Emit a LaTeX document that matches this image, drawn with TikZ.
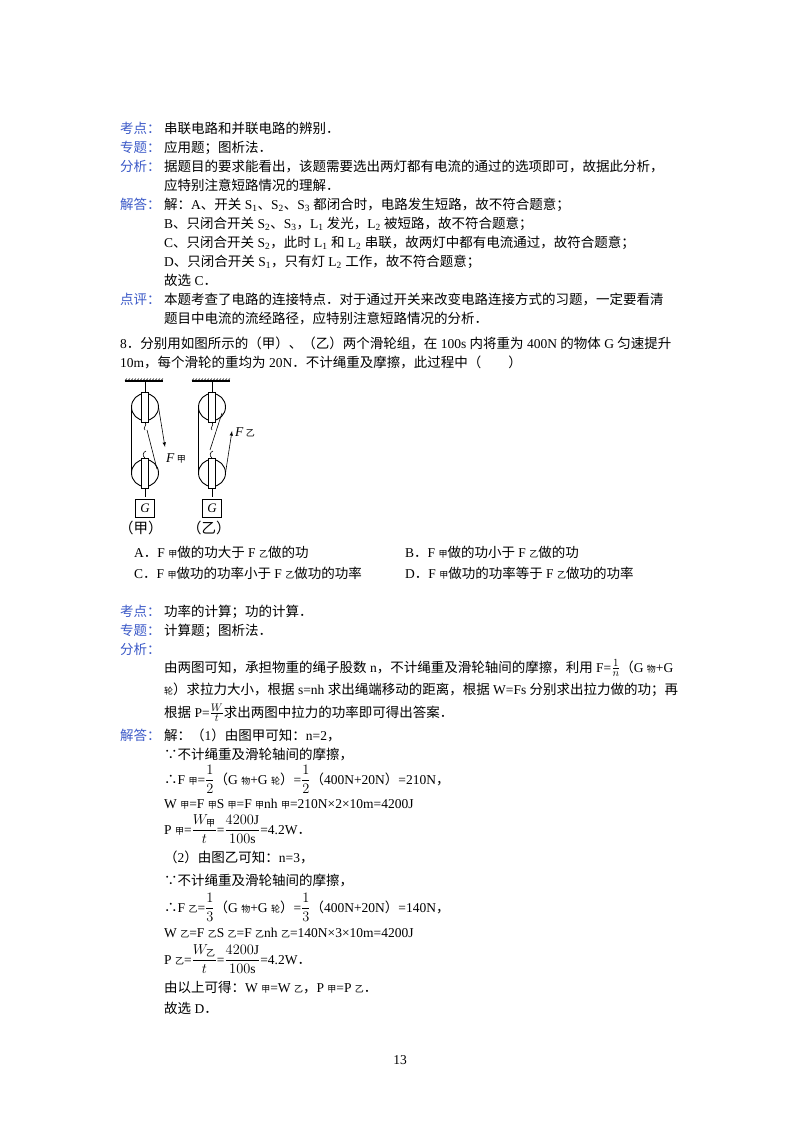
\documentclass[tikz,border=0pt]{standalone}
\usepackage{fontspec}
\setmainfont{Liberation Serif}
\newfontfamily\cjk{Noto Sans CJK SC}
\newfontfamily\lat{Liberation Serif}
\XeTeXinterchartokenstate=1
\newXeTeXintercharclass\cjkclass
\count255="3000
\loop \XeTeXcharclass\count255=\cjkclass \ifnum\count255<"9FFF \advance\count255 by 1 \repeat
\count255="FF00
\loop \XeTeXcharclass\count255=\cjkclass \ifnum\count255<"FFEF \advance\count255 by 1 \repeat
\XeTeXinterchartoks 0 \cjkclass={\cjk}
\XeTeXinterchartoks 4095 \cjkclass={\cjk}
\XeTeXinterchartoks \cjkclass 0={\lat}
\XeTeXinterchartoks \cjkclass 4095={\lat}
\definecolor{lab}{RGB}{60,90,200}
\tikzset{t/.style={anchor=base west,inner sep=0pt,font=\fontsize{13.5}{14}\selectfont},
 lb/.style={t,text=lab},
 pul/.style={draw,line width=0.9pt},
 rope/.style={line width=0.6pt}}
\newcommand\sm[1]{{\fontsize{9}{9}\selectfont #1}}
\newcommand\fr[2]{$\displaystyle\frac{#1}{#2}$}
\newcommand\fri[2]{{\fontsize{15}{15}\selectfont$\frac{#1}{#2}$}}
\begin{document}
\begin{tikzpicture}[x=1pt,y=-1pt]
\useasboundingbox[fill=white] (0,0) rectangle (800,1132);
% top section
\node[lb] (k1) at (120,133) {考点：};
\node[t] at (164,133) {串联电路和并联电路的辨别．};
\node[lb] (k2) at (120,152) {专题：};
\node[t] at (164,152) {应用题；图析法．};
\node[lb] (k3) at (120,171) {分析：};
\node[t] at (164,171) {据题目的要求能看出，该题需要选出两灯都有电流的通过的选项即可，故据此分析，};
\node[t] at (164,190) {应特别注意短路情况的理解．};
\node[lb] (k4) at (120,209) {解答：};
\node[t] at (164,209) {解：A、开关 S\textsubscript{1}、S\textsubscript{2}、S\textsubscript{3} 都闭合时，电路发生短路，故不符合题意；};
\node[t] at (164,228) {B、只闭合开关 S\textsubscript{2}、S\textsubscript{3}，L\textsubscript{1} 发光，L\textsubscript{2} 被短路，故不符合题意；};
\node[t] at (164,247) {C、只闭合开关 S\textsubscript{2}，此时 L\textsubscript{1} 和 L\textsubscript{2} 串联，故两灯中都有电流通过，故符合题意；};
\node[t] at (164,266) {D、只闭合开关 S\textsubscript{1}，只有灯 L\textsubscript{2} 工作，故不符合题意；};
\node[t] at (164,285) {故选 C．};
\node[lb] (k5) at (120,304) {点评：};
\node[t] at (164,304) {本题考查了电路的连接特点．对于通过开关来改变电路连接方式的习题，一定要看清};
\node[t] at (164,323) {题目中电流的流经路径，应特别注意短路情况的分析．};
% question 8
\node[t] at (120,348) {8．分别用如图所示的（甲）、（乙）两个滑轮组，在 100s 内将重为 400N 的物体 G 匀速提升};
\node[t] at (120,367) {10m，每个滑轮的重均为 20N．不计绳重及摩擦，此过程中（\quad\quad）};
% figure
\foreach \cx/\nm in {145/a,212/b}{
  \draw[line width=1.2pt] (\cx-20,381) -- (\cx+18,381);
  \foreach \i in {0,...,12} \draw[line width=0.4pt] (\cx-20+\i*3,380.5) -- (\cx-18+\i*3,378.5);
  \draw[line width=1pt] (\cx,381) -- (\cx,393);
  \foreach \py in {407,473}{
    \draw[pul] (\cx,\py) circle (13.5);
    \draw[pul,fill=white] (\cx-3.5,\py-15) rectangle (\cx+3.5,\py+15);
  }
  \draw[rope] (\cx,422) .. controls (\cx+3,425) and (\cx-3,428) .. (\cx,430);
  \draw[rope] (\cx,458) .. controls (\cx-3,456) and (\cx-2,452) .. (\cx+1,451);
  \draw[rope] (\cx,488) -- (\cx,497);
  \node[draw,line width=0.7pt,minimum width=19pt,minimum height=18pt,inner sep=0pt,font=\itshape\fontsize{13}{13}\selectfont] (G\nm) at (\cx,508) {G};
  \draw[rope] (\cx-13.5,407) -- (\cx-13.5,473);
}
\draw[rope] (147,430) -- (157,469);
\draw[rope,-latex] (158.5,407) -- (165,447);
\node[t] at (166,462) {\textit{F}\,\sm{甲}};
\draw[rope] (210,450) -- (222,413);
\draw[rope,-latex] (225.5,473) -- (232,431);
\node[t] at (235,436) {\textit{F}\,\sm{乙}};
\node[t,font=\fontsize{14.5}{15}\selectfont] at (119,533) {（甲）};
\node[t,font=\fontsize{14.5}{15}\selectfont] at (187,533) {（乙）};
% options
\node[t] at (134,557) {A．F \sm{甲}做的功大于 F \sm{乙}做的功};
\node[t] at (405,557) {B．F \sm{甲}做的功小于 F \sm{乙}做的功};
\node[t] at (134,578) {C．F \sm{甲}做功的功率小于 F \sm{乙}做功的功率};
\node[t] at (405,578) {D．F \sm{甲}做功的功率等于 F \sm{乙}做功的功率};
% analysis
\node[lb] at (120,616) {考点：};
\node[t] at (164,616) {功率的计算；功的计算．};
\node[lb] at (120,635) {专题：};
\node[t] at (164,635) {计算题；图析法．};
\node[lb] at (120,654) {分析：};
\node[t] at (164,672) {由两图可知，承担物重的绳子股数 n，不计绳重及滑轮轴间的摩擦，利用 F=\fri{1}{n}（G \sm{物}+G};
\node[t] at (164,694) {\sm{轮}）求拉力大小，根据 s=nh 求出绳端移动的距离，根据 W=Fs 分别求出拉力做的功；再};
\node[t] at (164,717) {根据 P=\fri{W}{t}求出两图中拉力的功率即可得出答案．};
\node[lb] at (120,740) {解答：};
\node[t] at (164,740) {解：（1）由图甲可知：n=2，};
\node[t] at (164,759) {{\cjk ∵}不计绳重及滑轮轴间的摩擦，};
\node[t] at (164,784) {{\cjk ∴}F \sm{甲}=\fr{1}{2}（G \sm{物}+G \sm{轮}）=\fr{1}{2}（400N+20N）=210N，};
\node[t] at (164,808) {W \sm{甲}=F \sm{甲}S \sm{甲}=F \sm{甲}nh \sm{甲}=210N×2×10m=4200J};
\node[t] at (164,834) {P \sm{甲}=\fr{W_{\mbox{\sm{甲}}}}{t}=\fr{4200\mathrm{J}}{100\mathrm{s}}=4.2W．};
\node[t] at (164,862) {（2）由图乙可知：n=3，};
\node[t] at (164,885) {{\cjk ∵}不计绳重及滑轮轴间的摩擦，};
\node[t] at (164,912) {{\cjk ∴}F \sm{乙}=\fr{1}{3}（G \sm{物}+G \sm{轮}）=\fr{1}{3}（400N+20N）=140N，};
\node[t] at (164,937) {W \sm{乙}=F \sm{乙}S \sm{乙}=F \sm{乙}nh \sm{乙}=140N×3×10m=4200J};
\node[t] at (164,964) {P \sm{乙}=\fr{W_{\mbox{\sm{乙}}}}{t}=\fr{4200\mathrm{J}}{100\mathrm{s}}=4.2W．};
\node[t] at (164,992) {由以上可得：W \sm{甲}=W \sm{乙}，P \sm{甲}=P \sm{乙}．};
\node[t] at (164,1013) {故选 D．};
\node[t,anchor=base] at (400,1064) {13};
\end{tikzpicture}
\end{document}
